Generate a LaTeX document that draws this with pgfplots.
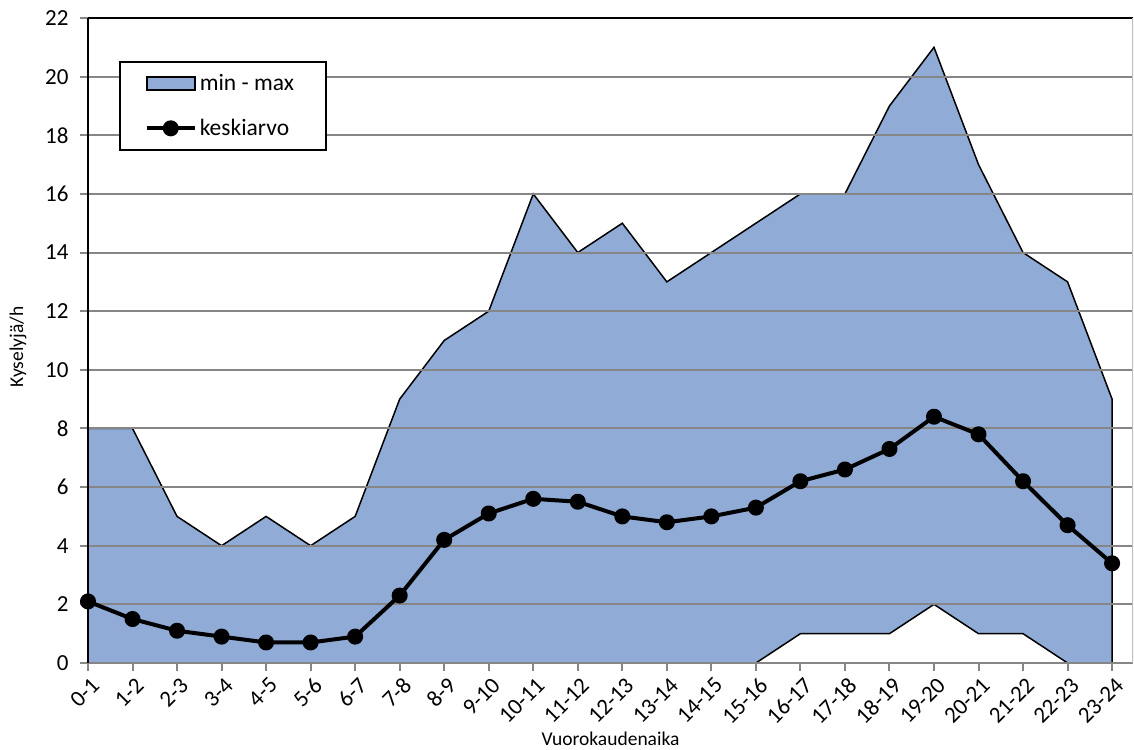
\documentclass[border=0pt]{standalone}
\usepackage{pgfplots}
\pgfplotsset{compat=1.18}
\usepgfplotslibrary{fillbetween}
\usepackage{fontspec}
\setmainfont{Carlito}
\definecolor{areablue}{RGB}{144,171,213}
\definecolor{gridgray}{RGB}{134,134,134}
\definecolor{bordergray}{RGB}{190,190,190}
\pgfplotsset{
  layers/mylayers/.define layer set={axis background,axis grid,pre main,main,axis ticks,axis lines,axis tick labels,axis descriptions,axis foreground}{},
}
\begin{document}
\begin{tikzpicture}
\begin{axis}[
  set layers=mylayers,
  at={(88pt,86pt)}, anchor=south west,
  scale only axis, width=1045pt, height=645pt,
  xmin=0, xmax=23.47, ymin=0, ymax=22,
  ytick={0,2,...,22},
  xtick={0,...,23},
  xticklabels={0-1,1-2,2-3,3-4,4-5,5-6,6-7,7-8,8-9,9-10,10-11,11-12,12-13,13-14,14-15,15-16,16-17,17-18,18-19,19-20,20-21,21-22,22-23,23-24},
  axis x line*=bottom, axis y line*=left,
  xtick pos=bottom, ytick pos=left,
  x axis line style={gridgray, line width=2pt, -},
  y axis line style={black, line width=2.5pt, -},
  tick align=outside,
  major tick length=8pt,
  every tick/.style={gridgray, line width=2pt},
  ymajorgrids, major grid style={gridgray, line width=2pt},
  /pgf/number format/assume math mode=true,
  tick label style={font=\fontsize{23}{27}\selectfont},
  yticklabel style={xshift=-8pt},
  xticklabel style={rotate=45, anchor=north east, inner sep=2pt, yshift=-3pt},
  xlabel={Vuorokaudenaika},
  ylabel={Kyselyjä/h},
  label style={font=\fontsize{19.5}{23}\selectfont},
  xlabel style={at={(axis description cs:0.5,0)}, anchor=base, yshift=-82pt},
  ylabel style={at={(axis description cs:-0.067,0.49)}, anchor=center},
  legend style={at={(axis description cs:0.0297,0.9333)}, anchor=north west,
    draw=black, line width=1.5pt, fill=white,
    inner xsep=25pt, inner ysep=10pt, row sep=21pt,
    font=\fontsize{23.5}{28}\selectfont,
    nodes={inner sep=3pt}},
  legend cell align=left,
]
\addplot[name path=max, draw=none, forget plot] coordinates {
(0,8) (1,8) (2,5) (3,4) (4,5) (5,4) (6,5) (7,9) (8,11) (9,12) (10,16) (11,14)
(12,15) (13,13) (14,14) (15,15) (16,16) (17,16) (18,19) (19,21) (20,17) (21,14) (22,13) (23,9)};
\addplot[name path=min, draw=none, forget plot] coordinates {
(0,0) (1,0) (2,0) (3,0) (4,0) (5,0) (6,0) (7,0) (8,0) (9,0) (10,0) (11,0)
(12,0) (13,0) (14,0) (15,0) (16,1) (17,1) (18,1) (19,2) (20,1) (21,1) (22,0) (23,0)};
\addplot[fill=areablue, draw=black, line width=1.5pt,
  legend image code/.code={\draw[fill=areablue, draw=black, line width=1.5pt] (0pt,-6.5pt) rectangle (48pt,6.5pt);}]
  fill between[of=max and min];
\addplot[black, line width=4pt, line join=round, mark=*, mark size=6pt, mark options={solid, fill=black},
  legend image code/.code={\draw[black, line width=4pt] (0pt,0pt) -- (48pt,0pt); \fill[black] (24pt,0pt) circle (6pt);}]
  coordinates {
(0,2.1) (1,1.5) (2,1.1) (3,0.9) (4,0.7) (5,0.7) (6,0.9) (7,2.3) (8,4.2) (9,5.1) (10,5.6) (11,5.5)
(12,5.0) (13,4.8) (14,5.0) (15,5.3) (16,6.2) (17,6.6) (18,7.3) (19,8.4) (20,7.8) (21,6.2) (22,4.7) (23,3.4)};
\legend{min - max\rule{4pt}{0pt}, keskiarvo}
\draw[black, line width=2pt] (rel axis cs:0,1) -- (rel axis cs:1,1);
\draw[bordergray, line width=1.5pt] (rel axis cs:1,0) -- (rel axis cs:1,1);
\end{axis}
\pgfresetboundingbox
\useasboundingbox (0,0) rectangle (1134pt,749pt);
\end{tikzpicture}
\end{document}
